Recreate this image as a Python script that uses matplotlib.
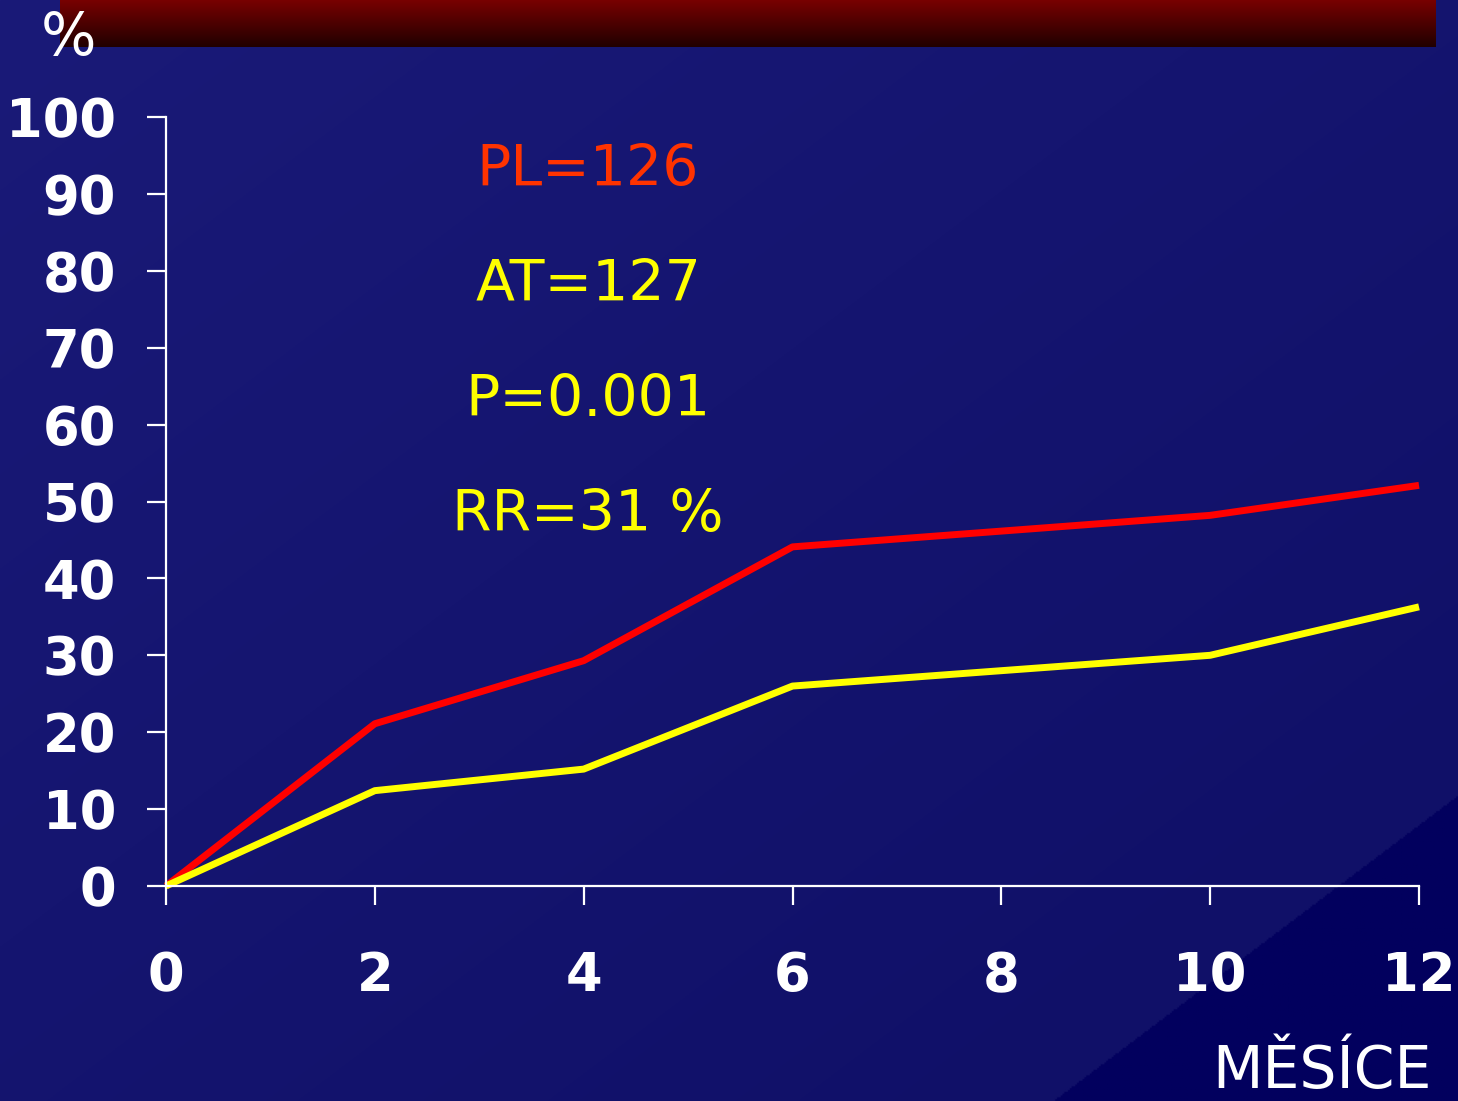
import numpy as np
import matplotlib
matplotlib.use("Agg")
from matplotlib import pyplot as plt

months = [0, 2, 4, 6, 10, 12]
pl_pct = [0, 21.1, 29.3, 44.1, 48.2, 52.1]   # placebo
at_pct = [0, 12.4, 15.2, 26.0, 30.0, 36.3]   # active treatment
x_ticks = [0, 2, 4, 6, 8, 10, 12]
y_ticks = [0, 10, 20, 30, 40, 50, 60, 70, 80, 90, 100]
notes = ["PL=126", "AT=127", "P=0.001", "RR=31 %"]
note_colors = ["#ff3300", "#ffff00", "#ffff00", "#ffff00"]

W, H = 1458, 1101
fig = plt.figure(figsize=(W / 100, H / 100), dpi=100)

# slide background: diagonal blue gradient, darker corner at bottom right
bg = fig.add_axes([0, 0, 1, 1], zorder=-2)
yy, xx = np.mgrid[0:1:600j, 0:1:800j]
t = (xx + yy) / 2
c0 = np.array([0x1a, 0x1a, 0x78]) / 255
c1 = np.array([0x10, 0x10, 0x68]) / 255
c2 = np.array([0x02, 0x00, 0x5e]) / 255
s = np.clip(t / 0.86, 0, 1)[..., None]
img = c0 * (1 - s) + c1 * s
img = np.where((t > 0.862)[..., None], c2, img)
bg.imshow(img, aspect="auto", extent=[0, 1, 0, 1], origin="upper")
bg.axis("off")

# dark red title bar
bar = fig.add_axes([60 / W, 1 - 47 / H, (1436 - 60) / W, 47 / H], zorder=-1)
g = np.linspace(0, 1, 100)[:, None]
r_top = np.array([0x78, 0x00, 0x00]) / 255
r_bot = np.array([0x20, 0x00, 0x00]) / 255
bar.imshow(r_top * (1 - g[..., None]) + r_bot * g[..., None], aspect="auto")
bar.axis("off")

ax = fig.add_axes([166 / W, 1 - 886 / H, (1419 - 166) / W, (886 - 117) / H])
ax.patch.set_alpha(0)
ax.plot(months, pl_pct, color="#ff0000", lw=5, solid_capstyle="butt", clip_on=False)
ax.plot(months, at_pct, color="#ffff00", lw=5, solid_capstyle="butt", clip_on=False)

ax.set_xlim(0, 12)
ax.set_ylim(0, 100)
ax.set_xticks(x_ticks)
ax.set_yticks(y_ticks)
for sp in ["top", "right"]:
    ax.spines[sp].set_visible(False)
for sp in ["left", "bottom"]:
    ax.spines[sp].set_color("white")
    ax.spines[sp].set_linewidth(1.6)
ax.tick_params(axis="x", colors="white", length=14, width=1.6, pad=32, labelsize=38)
ax.tick_params(axis="y", colors="white", length=14, width=1.6, pad=22, labelsize=38)
for lab in ax.get_xticklabels() + ax.get_yticklabels():
    lab.set_fontweight("bold")

for i, (txt, col) in enumerate(zip(notes, note_colors)):
    fig.text(588 / W, 1 - (186 + 115 * i) / H, txt, color=col, fontsize=41,
             ha="center", va="baseline")

fig.text(68 / W, 1 - 55 / H, "%", color="white", fontsize=42, ha="center", va="baseline")
fig.text(1432 / W, 1 - 1088 / H, "MĚSÍCE", color="white", fontsize=42,
         ha="right", va="baseline")

fig.savefig("out.png", dpi=100)
